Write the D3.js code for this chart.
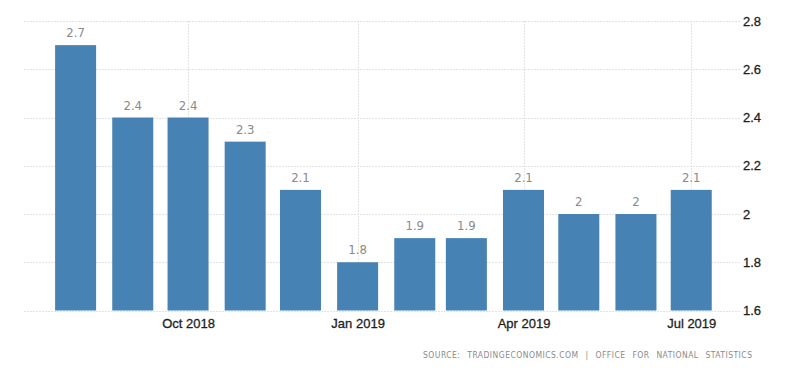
<!DOCTYPE html>
<html>
<head>
<meta charset="utf-8">
<script src="https://cdn.jsdelivr.net/npm/d3@7"></script>
<style>
  body { margin: 0; background: #fff; }
  svg { display: block; font-family: "DejaVu Sans Condensed", "DejaVu Sans", sans-serif; }
</style>
</head>
<body>
<div id="chart"></div>
<script>
// UK inflation rate, Aug 2018 - Jul 2019
const months = ['2018-08', '2018-09', '2018-10', '2018-11', '2018-12', '2019-01',
                '2019-02', '2019-03', '2019-04', '2019-05', '2019-06', '2019-07'];
const values = [2.7, 2.4, 2.4, 2.3, 2.1, 1.8, 1.9, 1.9, 2.1, 2, 2, 2.1];
const xTicks = ['2018-10', '2019-01', '2019-04', '2019-07'];
const yTicks = [1.6, 1.8, 2, 2.2, 2.4, 2.6, 2.8];
const source = 'SOURCE: TRADINGECONOMICS.COM | OFFICE FOR NATIONAL STATISTICS';

const width = 800, height = 373;
const plotLeft = 24, plotRight = 741, plotTop = 21, plotBottom = 310.5;
const barWidth = 41;

const parse = d3.timeParse('%Y-%m');
const data = months.map((m, i) => ({ date: parse(m), value: values[i] }));

const x = d3.scaleTime()
  .domain([new Date(2018, 6, 4), new Date(2019, 6, 28)])
  .range([plotLeft, plotRight]);
const y = d3.scaleLinear()
  .domain([1.6, 2.8])
  .range([plotBottom, plotTop]);

const svg = d3.select('#chart').append('svg')
  .attr('width', width)
  .attr('height', height);

// grid
svg.append('g')
  .selectAll('line')
  .data(yTicks)
  .join('line')
    .attr('x1', plotLeft)
    .attr('x2', plotRight)
    .attr('y1', d => Math.round(y(d)) + 0.5)
    .attr('y2', d => Math.round(y(d)) + 0.5)
    .attr('stroke', '#e3e3e3')
    .attr('stroke-dasharray', '2,1');

svg.append('g')
  .selectAll('line')
  .data(xTicks.map(parse))
  .join('line')
    .attr('x1', d => Math.round(x(d)) + 0.5)
    .attr('x2', d => Math.round(x(d)) + 0.5)
    .attr('y1', plotTop)
    .attr('y2', plotBottom)
    .attr('stroke', '#e3e3e3')
    .attr('stroke-dasharray', '2,1');

// bars
svg.append('g')
  .selectAll('rect')
  .data(data)
  .join('rect')
    .attr('x', d => x(d.date) - barWidth / 2)
    .attr('y', d => y(d.value))
    .attr('width', barWidth)
    .attr('height', d => y(1.6) - y(d.value))
    .attr('fill', '#4682b4');

// value labels
svg.append('g')
  .selectAll('text')
  .data(data)
  .join('text')
    .attr('x', d => x(d.date))
    .attr('y', d => y(d.value) - 8)
    .attr('text-anchor', 'middle')
    .attr('font-size', 13)
    .attr('fill', '#8a8a8a')
    .text(d => d3.format('')(d.value));

// x axis labels
const xAxis = d3.axisBottom(x)
  .tickValues(xTicks.map(parse))
  .tickFormat(d3.timeFormat('%b %Y'))
  .tickSize(0)
  .tickPadding(8);
svg.append('g')
  .attr('transform', `translate(0,${plotBottom})`)
  .call(xAxis)
  .call(g => g.select('.domain').remove())
  .call(g => g.selectAll('text')
    .attr('font-size', 13)
    .attr('font-family', null)
    .attr('fill', '#1e1e1e')
    .attr('stroke', '#1e1e1e')
    .attr('stroke-width', 0.3));

// y axis labels
const yAxis = d3.axisRight(y)
  .tickValues(yTicks)
  .tickFormat(d3.format(''))
  .tickSize(0)
  .tickPadding(2);
svg.append('g')
  .attr('transform', `translate(${plotRight},0)`)
  .call(yAxis)
  .call(g => g.select('.domain').remove())
  .call(g => g.selectAll('text')
    .attr('font-size', 13)
    .attr('font-family', null)
    .attr('fill', '#1e1e1e')
    .attr('stroke', '#1e1e1e')
    .attr('stroke-width', 0.3));

// source note
svg.append('text')
  .attr('x', 423)
  .attr('y', 358)
  .attr('font-size', 8.5)
  .attr('word-spacing', 4)
  .attr('textLength', 329)
  .attr('lengthAdjust', 'spacing')
  .attr('fill', '#8a8a8a')
  .text(source);
</script>
</body>
</html>
